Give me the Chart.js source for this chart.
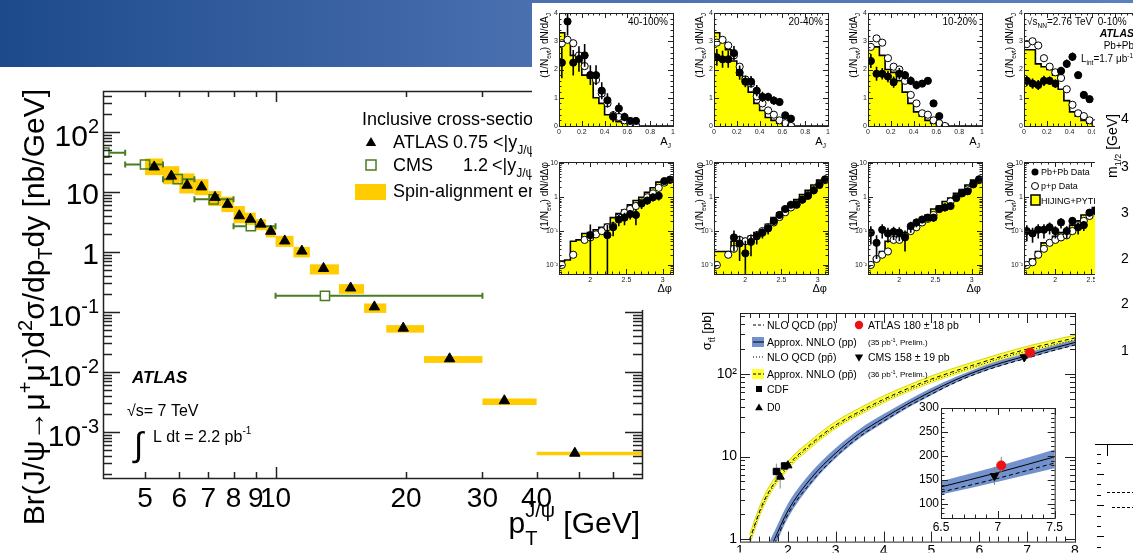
<!DOCTYPE html>
<html>
<head>
<meta charset="utf-8">
<title>ATLAS results</title>
<script src="https://cdn.jsdelivr.net/npm/chart.js@4.4.1/dist/chart.umd.min.js"></script>
<style>
  html, body { margin: 0; padding: 0; }
  body { width: 1133px; height: 553px; overflow: hidden; position: relative; background: #fff;
         font-family: "Liberation Sans", Arial, sans-serif; }
  #header { position: absolute; left: 0; top: 0; width: 1133px; height: 67px; z-index: 1;
            background: linear-gradient(90deg, #1d4a8b 0%, #4a70b0 47%, #5a80c0 100%); }
  .white { position: absolute; background: #fff; }
  canvas { position: absolute; }
  #collageBg { left: 532px; top: 3px; width: 601px; height: 307px; z-index: 2; }
  #ttbarBg { left: 690px; top: 300px; width: 405px; height: 253px; z-index: 4; }
  #mainChart { left: 0; top: 0; z-index: 0; }
  #ttbarChart { left: 690px; top: 300px; z-index: 5; }
  #insetChart { left: 900px; top: 398px; z-index: 6; }
  #m12 { left: 1095px; top: 68px; z-index: 7; background: #fff; }
</style>
</head>
<body>
<div id="header"></div>
<canvas id="mainChart" width="690" height="553"></canvas>
<div id="collageBg" class="white"></div>
<div id="ttbarBg" class="white"></div>
<canvas id="ttbarChart" width="405" height="253"></canvas>
<canvas id="insetChart" width="165" height="140"></canvas>
<canvas id="m12" width="38" height="485"></canvas>

<script>
/* ======================
   DATA : J/psi cross-section (main plot)
====================== */
const binLo   = [5, 5.5, 6, 6.5, 7, 7.5, 8, 8.5, 9, 9.5, 10, 11, 12, 14, 16, 18, 22, 30, 40];
const binHi   = [5.5, 6, 6.5, 7, 7.5, 8, 8.5, 9, 9.5, 10, 11, 12, 14, 16, 18, 22, 30, 40, 70];
const atlasPt = [5.25, 5.75, 6.25, 6.75, 7.25, 7.75, 8.25, 8.75, 9.25, 9.75, 10.5, 11.5, 12.9, 14.9, 16.9, 19.7, 25.2, 33.7, 49];
const atlasXs = [26, 18.3, 12.9, 12.1, 8.1, 6.2, 4.0, 3.5, 2.9, 2.2, 1.52, 1.03, 0.53, 0.25, 0.121, 0.0535, 0.0165, 0.0033, 0.00044];
const spinHi  = [36, 26.8, 20.3, 16.3, 10.3, 8.3, 5.8, 4.5, 3.5, 2.6, 1.85, 1.21, 0.62, 0.29, 0.138, 0.06, 0.0183, 0.0036, 0.000465];
const spinLo  = [19, 13.4, 9.4, 8.8, 5.8, 4.6, 3.0, 2.8, 2.3, 1.74, 1.21, 0.81, 0.42, 0.20, 0.096, 0.045, 0.0141, 0.0028, 0.000407];

const cmsPt = [4.03, 5.0, 5.95, 7.2, 8.77, 13.0];
const cmsLo = [3.5, 4.5, 5.5, 6.5, 8, 10];
const cmsHi = [4.5, 5.5, 6.5, 8, 10, 30];
const cmsXs = [45, 28.6, 16.3, 7.5, 2.68, 0.185];

const ptTicks   = [5, 6, 7, 8, 9, 10, 20, 30, 40];
const yTickVals = [1e-3, 1e-2, 1e-1, 1, 10, 100];
const yTickBase = ['10', '10', '10', '1', '10', '10'];
const yTickExp  = ['-3', '-2', '-1', '', '', '2'];

/* ======================
   DATA : dijet asymmetry panels
====================== */
const centralities = ['40-100%', '20-40%', '10-20%', '0-10%'];
const ajEdges   = [0, 0.05, 0.1, 0.15, 0.2, 0.25, 0.3, 0.35, 0.4, 0.45, 0.5, 0.55, 0.6, 0.65, 0.7, 0.75, 0.8, 0.85, 0.9, 0.95, 1.0];
const ajCenters = [0.025, 0.075, 0.125, 0.175, 0.225, 0.275, 0.325, 0.375, 0.425, 0.475, 0.525, 0.575, 0.625, 0.675];

const ajHist1  = [3.4, 3.3, 3.0, 2.5, 2.3, 1.8, 1.7, 1.0, 0.8, 0.4, 0.3, 0.15, 0.1, 0.05, 0, 0, 0, 0, 0, 0];
const ajPbPb1  = [2.24, 3.7, 2.24, 2.37, 2.5, 1.8, 1.8, 1.25, 0.91, 0.33, 0.62, 0.32, 0.18, 0.18];
const ajErr1   = [0.55, 0.5, 0.45, 0.45, 0.4, 0.35, 0.35, 0.3, 0.25, 0.2, 0.2, 0.15, 0.12, 0.12];
const ajPp1    = [2.93, 3.05, 2.93, 2.5, 2.12, 1.8, 1.63, 1.15, 0.8, 0.38, 0.32, 0.2, 0.1, 0.0];

const ajHist2  = [3.0, 3.3, 3.0, 2.7, 2.3, 1.8, 1.6, 1.2, 0.8, 0.55, 0.3, 0.2, 0.1, 0.05, 0, 0, 0, 0, 0, 0];
const ajPbPb2  = [2.43, 2.36, 2.36, 2.58, 1.89, 1.57, 1.57, 1.25, 1.03, 1.03, 0.9, 0.85, 0.38, 0.26];
const ajErr2   = [0.3, 0.3, 0.3, 0.25, 0.25, 0.2, 0.2, 0.2, 0.18, 0.15, 0.15, 0.12, 0.1, 0.08];
const ajPp2    = [2.95, 3.05, 2.85, 2.5, 2.1, 1.65, 1.5, 1.05, 0.8, 0.55, 0.4, 0.2, 0.1, 0.0];

const ajHist3  = [2.9, 2.8, 2.8, 2.5, 2.0, 1.9, 1.6, 1.2, 0.8, 0.5, 0.35, 0.2, 0.1, 0.05, 0, 0, 0, 0, 0, 0];
const ajPbPb3  = [2.3, 1.85, 1.85, 1.75, 1.55, 1.85, 1.8, 1.6, 1.45, 1.5, 1.6, 0.8, 0.35];
const ajErr3   = [0.25, 0.25, 0.2, 0.2, 0.2, 0.2, 0.15, 0.15, 0.15, 0.12, 0.12, 0.12, 0.1];
const ajPp3    = [2.8, 3.1, 2.95, 2.4, 2.1, 2.0, 1.6, 1.1, 0.8, 0.45, 0.4, 0.2, 0.1, 0.0];

const ajHist4  = [2.3, 2.7, 2.7, 2.2, 2.1, 2.0, 1.8, 1.3, 0.9, 0.5, 0.35, 0.2, 0.1, 0.05, 0, 0, 0, 0, 0, 0];
const ajPbPb4  = [1.6, 1.5, 1.45, 1.6, 1.6, 1.5, 1.95, 2.2, 2.45, 1.8, 1.1, 0.95];
const ajErr4   = [0.18, 0.18, 0.18, 0.18, 0.15, 0.15, 0.15, 0.15, 0.15, 0.12, 0.12, 0.1];
const ajPp4    = [2.9, 3.0, 2.85, 2.4, 2.1, 1.9, 1.7, 1.3, 0.75, 0.45, 0.35, 0.2, 0.1, 0.0];

const dpEdges   = [1.571, 1.649, 1.728, 1.806, 1.885, 1.963, 2.042, 2.120, 2.199, 2.278, 2.356, 2.435, 2.513, 2.592, 2.670, 2.749, 2.827, 2.906, 2.985, 3.063, 3.142];
const dpCenters = [1.610, 1.689, 1.767, 1.846, 1.924, 2.003, 2.081, 2.160, 2.238, 2.317, 2.395, 2.474, 2.552, 2.631, 2.709, 2.788, 2.866, 2.945, 3.023, 3.102];

const dpHist1 = [0.013, 0.013, 0.014, 0.05, 0.055, 0.085, 0.09, 0.11, 0.13, 0.16, 0.25, 0.33, 0.42, 0.6, 0.8, 1.0, 1.4, 1.9, 2.8, 3.3];
const dpPbPb1 = [null, null, null, null, null, 0.076, null, null, 0.076, 0.13, 0.22, 0.25, 0.32, 0.3, 0.65, 0.8, 1.0, 1.1, 3.0, 3.3];
const dpErr1  = [null, null, null, null, null, 0.08, null, null, 0.08, 0.06, 0.08, 0.1, 0.1, 0.15, 0.2, 0.2, 0.25, 0.3, 0.4, 0.4];
const dpPp1   = [0.01, null, 0.02, null, 0.055, 0.065, 0.08, 0.1, 0.13, 0.14, 0.25, 0.35, 0.45, 0.55, 0.7, 1.0, 1.3, 1.9, 2.7, 3.3];

const dpHist2 = [0.025, 0.025, 0.025, 0.025, 0.05, 0.055, 0.06, 0.07, 0.09, 0.11, 0.16, 0.25, 0.35, 0.5, 0.65, 0.85, 1.2, 1.6, 2.3, 3.2];
const dpPbPb2 = [null, null, null, 0.065, 0.043, 0.022, 0.048, 0.07, 0.09, 0.12, 0.2, 0.3, 0.45, 0.6, 0.6, 0.85, 1.1, 1.6, 2.3, 3.4];
const dpErr2  = [null, null, null, 0.04, 0.03, 0.03, 0.03, 0.03, 0.03, 0.04, 0.05, 0.07, 0.08, 0.1, 0.1, 0.12, 0.15, 0.2, 0.3, 0.35];
const dpPp2   = [0.01, null, 0.02, 0.03, 0.055, 0.05, 0.06, 0.075, 0.1, 0.13, 0.18, 0.26, 0.36, 0.5, 0.62, 0.85, 1.15, 1.6, 2.4, 3.2];

const dpHist3 = [0.016, 0.01, 0.016, 0.025, 0.05, 0.05, 0.07, 0.09, 0.12, 0.16, 0.22, 0.3, 0.45, 0.55, 0.75, 0.95, 1.3, 1.7, 2.3, 3.2];
const dpPbPb3 = [0.09, 0.045, 0.11, 0.085, 0.095, 0.09, 0.065, 0.14, 0.18, 0.22, 0.25, 0.25, 0.45, 0.5, 0.55, 0.95, 1.3, 1.5, 2.5, 3.4];
const dpErr3  = [0.05, 0.03, 0.05, 0.04, 0.04, 0.04, 0.04, 0.05, 0.05, 0.05, 0.05, 0.06, 0.08, 0.1, 0.1, 0.12, 0.15, 0.2, 0.3, 0.35];
const dpPp3   = [0.01, 0.015, 0.02, 0.025, 0.055, 0.055, 0.07, 0.1, 0.13, 0.18, 0.23, 0.3, 0.45, 0.5, 0.75, 1.0, 1.35, 1.7, 2.4, 3.2];

const dpHist4 = [0.01, 0.01, 0.015, 0.025, 0.045, 0.05, 0.07, 0.09, 0.11, 0.15, 0.2, 0.3, 0.4, 0.5, 0.75, 1.0, 1.3, 1.7, 2.4, 3.2];
const dpPbPb4 = [0.1, 0.085, 0.11, 0.11, 0.13, 0.1, 0.18, 0.1, 0.2, 0.13, 0.15, 0.35, 0.4, 0.5, 0.6, 0.9, 1.2, 1.6, 2.4, 3.4];
const dpErr4  = [0.05, 0.04, 0.05, 0.05, 0.05, 0.04, 0.06, 0.04, 0.06, 0.05, 0.05, 0.08, 0.1, 0.1, 0.12, 0.15, 0.2, 0.25, 0.3, 0.35];
const dpPp4   = [0.01, 0.012, 0.02, 0.03, 0.045, 0.055, 0.065, 0.075, 0.1, 0.15, 0.2, 0.28, 0.4, 0.5, 0.7, 0.95, 1.3, 1.7, 2.4, 3.2];

/* ======================
   DATA : ttbar cross-section
====================== */
const sqrtSppbar = [1.2, 1.5, 2, 2.5, 3, 3.5, 4, 4.5, 5, 5.5, 6, 6.5, 7, 7.5, 8];
const ppbarNNLO  = [1.0, 2.9, 7.8, 14.5, 24, 35, 49, 66, 86, 108, 134, 164, 198, 232, 270];
const ppbarHi    = [1.15, 3.3, 8.7, 16, 26.5, 38.5, 54, 72, 94, 118, 146, 178, 214, 251, 292];
const ppbarLo    = [0.87, 2.55, 7.0, 13, 21.8, 31.8, 44.5, 60, 78, 98, 122, 150, 182, 213, 248];
const ppbarNLO   = [0.94, 2.75, 7.4, 13.8, 22.8, 33.3, 46.6, 62.7, 81.7, 102.6, 127, 156, 188, 220, 256];

const sqrtSpp = [1.6, 1.72, 2, 2.5, 3, 3.5, 4, 4.5, 5, 5.5, 6, 6.5, 7, 7.5, 8];
const ppNNLO  = [0.7, 1.0, 2.2, 5.6, 11, 19, 29, 43, 61, 84, 110, 137, 165, 200, 238];
const ppHi    = [0.9, 1.25, 2.7, 6.6, 12.7, 21.5, 32.5, 47.5, 67, 91, 119, 148, 178, 215, 255];
const ppLo    = [0.55, 0.8, 1.8, 4.7, 9.5, 16.6, 25.6, 38.5, 55, 77, 101, 126, 152, 185, 221];
const ppNLO   = [0.62, 0.88, 2.0, 5.0, 10, 17.4, 26.7, 40, 56.6, 78.5, 103, 128, 154, 187, 222];

const cdfS = [1.76, 1.93], cdfXs = [6.6, 7.7], cdfErr = [1.6, 0.9];
const d0S  = [1.84, 2.0],  d0Xs  = [5.7, 7.8], d0Err  = [1.6, 0.8];
const atlasTtS = [7.06], atlasTtXs = [180], atlasTtErr = [18];
const cmsTtS   = [6.94], cmsTtXs   = [158], cmsTtErr   = [19];
const sqrtSTicks = [1, 2, 3, 4, 5, 6, 7, 8];

const insetS    = [6.5, 7.0, 7.5];
const insetNNLO = [135, 165, 198];
const insetHi   = [147, 178, 213];
const insetLo   = [119, 146, 174];
const insetNLO  = [124, 153, 185];
const insetYTicks = [100, 150, 200, 250, 300];
const insetXTicks = [6.5, 7, 7.5];

/* ======================
   HELPERS
====================== */
const FONT = '"Liberation Sans", Arial, Helvetica, sans-serif';
const font = (size, style) => `${style || ''} ${size}px ${FONT}`;
Chart.defaults.font.family = FONT;
Chart.defaults.color = '#000';

function richWidth(ctx, segs) {
  let w = 0;
  segs.forEach(s => { ctx.font = font(s[1], s[3]); if (!s[4]) w += ctx.measureText(s[0]).width; });
  return w;
}
// segs: [text, size, dy, style, noAdvance]
function richText(ctx, segs, x, y, align) {
  const w = richWidth(ctx, segs);
  let cx = align === 'right' ? x - w : align === 'center' ? x - w / 2 : x;
  ctx.textAlign = 'left';
  ctx.textBaseline = 'alphabetic';
  segs.forEach(s => {
    ctx.font = font(s[1], s[3]);
    ctx.fillText(s[0], cx, y + (s[2] || 0));
    if (!s[4]) cx += ctx.measureText(s[0]).width;
  });
  return w;
}
function rotText(ctx, segs, x, y, align) {
  ctx.save();
  ctx.translate(x, y);
  ctx.rotate(-Math.PI / 2);
  richText(ctx, segs, 0, 0, align);
  ctx.restore();
}
function tri(ctx, x, y, r, down) {
  const s = down ? -1 : 1;
  ctx.beginPath();
  ctx.moveTo(x, y - s * r);
  ctx.lineTo(x + r * 0.87, y + s * r / 2);
  ctx.lineTo(x - r * 0.87, y + s * r / 2);
  ctx.closePath();
  ctx.fill();
}
function dot(ctx, x, y, r, open) {
  ctx.beginPath();
  ctx.arc(x, y, r, 0, Math.PI * 2);
  if (open) { ctx.fillStyle = '#fff'; ctx.fill(); ctx.stroke(); ctx.fillStyle = '#000'; }
  else ctx.fill();
}
const toPts = (xs, ys, es) => xs.map((x, i) => ({ x, y: ys[i], e: es ? es[i] : null }))
                                .filter(p => p.y !== null && p.y !== undefined);
const stepPts = (edges, vals) => {
  const pts = vals.map((v, i) => ({ x: edges[i], y: v }));
  pts.push({ x: edges[vals.length], y: vals[vals.length - 1] });
  return pts;
};
const decadeMinors = (lo, hi) => {
  const out = [];
  for (let d = -5; d <= 3; d++) for (let m = 2; m <= 9; m++) {
    const v = m * Math.pow(10, d);
    if (v > lo && v < hi) out.push(v);
  }
  return out;
};
const linMinors = (lo, hi, step) => {
  const out = [];
  for (let v = lo; v <= hi + 1e-9; v += step) out.push(+v.toFixed(4));
  return out;
};

/* ======================
   PLUGINS : ROOT style frame + error bars
====================== */
const rootFrame = {
  id: 'rootFrame',
  afterDatasetsDraw(chart, args, o) {
    const { ctx, chartArea: a } = chart;
    const sx = chart.scales.x, sy = chart.scales.y;
    ctx.save();
    ctx.strokeStyle = o.color || '#222';
    ctx.lineWidth = o.lineWidth || 1;
    ctx.beginPath();
    const mark = (vals, len, scale, horiz) => {
      (vals || []).forEach(v => {
        if (v < scale.min || v > scale.max) return;
        const p = Math.round(scale.getPixelForValue(v)) + 0.5;
        if (horiz) {
          ctx.moveTo(p, a.bottom); ctx.lineTo(p, a.bottom - len);
          ctx.moveTo(p, a.top); ctx.lineTo(p, a.top + len);
        } else {
          ctx.moveTo(a.left, p); ctx.lineTo(a.left + len, p);
          ctx.moveTo(a.right, p); ctx.lineTo(a.right - len, p);
        }
      });
    };
    mark(o.xMajor, o.xMajorLen || 6, sx, true);
    mark(o.xMinor, o.xMinorLen || 3, sx, true);
    mark(o.yMajor, o.yMajorLen || 6, sy, false);
    mark(o.yMinor, o.yMinorLen || 3, sy, false);
    ctx.stroke();
    ctx.strokeRect(a.left + 0.5, a.top + 0.5, a.right - a.left, a.bottom - a.top);
    ctx.restore();
  }
};
const errorBars = {
  id: 'errorBars',
  beforeDatasetDraw(chart, args) {
    const ds = chart.data.datasets[args.index];
    if (!ds.withErr) return;
    const { ctx, chartArea: a } = chart;
    const sx = chart.scales.x, sy = chart.scales.y;
    ctx.save();
    ctx.beginPath(); ctx.rect(a.left, a.top, a.right - a.left, a.bottom - a.top); ctx.clip();
    ctx.strokeStyle = ds.errColor || '#000';
    ctx.lineWidth = ds.errWidth || 1;
    ctx.beginPath();
    ds.data.forEach(p => {
      if (p.e === null || p.e === undefined) return;
      const px = sx.getPixelForValue(p.x);
      const lo = p.y - p.e;
      const pLo = (sy.type === 'logarithmic' && lo <= 0) ? a.bottom : sy.getPixelForValue(lo);
      ctx.moveTo(px, pLo);
      ctx.lineTo(px, sy.getPixelForValue(p.y + p.e));
    });
    ctx.stroke();
    ctx.restore();
  }
};
Chart.register(rootFrame, errorBars);

const fixedScale = (extra, fit) => Object.assign({
  grid: { display: false, drawTicks: false },
  border: { display: false },
  afterFit: fit
}, extra);

/* ======================
   MAIN CHART : J/psi
====================== */
const cmsGreen = '#4a7d22';
const jpsiExtras = {
  id: 'jpsiExtras',
  beforeDatasetsDraw(chart) {
    const { ctx, chartArea: a, scales: { x, y } } = chart;
    ctx.save();
    ctx.beginPath(); ctx.rect(a.left, a.top, a.right - a.left, a.bottom - a.top); ctx.clip();
    ctx.fillStyle = '#ffcc00';
    binLo.forEach((lo, i) => {
      const x0 = x.getPixelForValue(lo), x1 = x.getPixelForValue(binHi[i]);
      const y0 = y.getPixelForValue(spinHi[i]), y1 = y.getPixelForValue(spinLo[i]);
      ctx.fillRect(x0, y0, x1 - x0, Math.max(y1 - y0, 3));
    });
    ctx.strokeStyle = cmsGreen;
    ctx.lineWidth = 2;
    ctx.beginPath();
    cmsPt.forEach((pt, i) => {
      const yy = y.getPixelForValue(cmsXs[i]);
      const xl = x.getPixelForValue(cmsLo[i]), xh = x.getPixelForValue(cmsHi[i]);
      const xc = x.getPixelForValue(pt);
      ctx.moveTo(xl, yy); ctx.lineTo(xc - 5, yy);
      ctx.moveTo(xc + 5, yy); ctx.lineTo(xh, yy);
      ctx.moveTo(xl, yy - 3); ctx.lineTo(xl, yy + 3);
      ctx.moveTo(xh, yy - 3); ctx.lineTo(xh, yy + 3);
    });
    ctx.stroke();
    ctx.restore();
  },
  afterDraw(chart) {
    const { ctx, scales: { y } } = chart;
    ctx.save();
    ctx.fillStyle = '#000';

    // y tick labels, ROOT style exponents
    yTickVals.forEach((v, i) => {
      const py = y.getPixelForValue(v);
      const segs = yTickExp[i] ? [[yTickBase[i], 30], [yTickExp[i], 20, -13]] : [[yTickBase[i], 30]];
      richText(ctx, segs, 99, py + (yTickExp[i] ? 14 : 12), 'right');
    });

    // y title
    const ySegs = [['Br(J/ψ→μ', 30], ['+', 20, -12], ['μ', 30], ['-', 20, -12], [')d', 30], ['2', 20, -12],
                   ['σ/dp', 30], ['T', 20, 8], ['dy [nb/GeV]', 30]];
    const yw = richWidth(ctx, ySegs);
    rotText(ctx, ySegs, 44, 89 + yw / 2, 'center');

    // x title
    richText(ctx, [['p', 30], ['T', 20, 12, '', true], ['J/ψ', 20, -16], [' [GeV]', 30]], 640, 533, 'right');

    // legend
    ctx.fillStyle = '#000';
    richText(ctx, [['Inclusive cross-section', 18]], 362, 125);
    tri(ctx, 371, 143, 6);
    richText(ctx, [['ATLAS', 18]], 393, 148);
    richText(ctx, [['0.75 <|y', 18], ['J/ψ', 12, 6], ['| < 1.5', 18]], 453, 148);
    ctx.strokeStyle = cmsGreen; ctx.lineWidth = 1.5;
    ctx.strokeRect(366, 160, 10, 10);
    richText(ctx, [['CMS', 18]], 393, 171);
    richText(ctx, [['1.2', 18]], 463, 171);
    richText(ctx, [['<|y', 18], ['J/ψ', 12, 6], ['| < 1.6', 18]], 492, 171);
    ctx.fillStyle = '#ffcc00';
    ctx.fillRect(355, 184, 31, 16);
    ctx.fillStyle = '#000';
    richText(ctx, [['Spin-alignment envelope', 18]], 393, 197);

    // ATLAS label block
    richText(ctx, [['ATLAS', 17, 0, 'italic bold']], 132, 383);
    richText(ctx, [['√s= 7 TeV', 16]], 127, 416);
    richText(ctx, [['∫', 34]], 134, 456);
    richText(ctx, [['L dt = 2.2 pb', 16], ['-1', 10, -8]], 153, 442);
    ctx.restore();
  }
};

new Chart(document.getElementById('mainChart'), {
  type: 'scatter',
  data: {
    datasets: [
      { label: 'ATLAS 0.75<|y|<1.5', data: toPts(atlasPt, atlasXs), pointStyle: 'triangle',
        pointRadius: 6, backgroundColor: '#000', borderColor: '#000', borderWidth: 1, order: 1 },
      { label: 'CMS 1.2<|y|<1.6', data: toPts(cmsPt, cmsXs), pointStyle: 'rect',
        pointRadius: 6.5, backgroundColor: 'rgba(0,0,0,0)', borderColor: cmsGreen, borderWidth: 1.5, order: 2 }
    ]
  },
  options: {
    responsive: false, animation: false, devicePixelRatio: 1,
    layout: { padding: { top: 91, right: 48, left: 0, bottom: 0 } },
    plugins: {
      legend: { display: false }, tooltip: { enabled: false },
      rootFrame: { lineWidth: 1.5, xMajor: [10], xMinor: [5, 6, 7, 8, 9, 20, 30, 40, 50, 60],
                   xMajorLen: 11, xMinorLen: 6, yMajor: yTickVals, yMinor: decadeMinors(1.7e-4, 480),
                   yMajorLen: 17, yMinorLen: 9 }
    },
    scales: {
      x: fixedScale({
        type: 'logarithmic', min: 4, max: 70,
        afterBuildTicks: s => { s.ticks = ptTicks.map(v => ({ value: v })); },
        ticks: { autoSkip: false, maxRotation: 0, minRotation: 0, padding: 4, color: '#000',
                 font: { size: 28 }, callback: v => String(v) }
      }, s => { s.height = 75; }),
      y: fixedScale({
        type: 'logarithmic', min: 1.7e-4, max: 480,
        afterBuildTicks: s => { s.ticks = yTickVals.map(v => ({ value: v })); },
        ticks: { display: false }
      }, s => { s.width = 103; })
    }
  },
  plugins: [jpsiExtras]
});

/* ======================
   DIJET PANELS
====================== */
const panelLefts = [559, 714, 868, 1024];
const ajSets = [
  [ajHist1, ajPbPb1, ajErr1, ajPp1], [ajHist2, ajPbPb2, ajErr2, ajPp2],
  [ajHist3, ajPbPb3, ajErr3, ajPp3], [ajHist4, ajPbPb4, ajErr4, ajPp4]
];
const dpSets = [
  [dpHist1, dpPbPb1, dpErr1, dpPp1], [dpHist2, dpPbPb2, dpErr2, dpPp2],
  [dpHist3, dpPbPb3, dpErr3, dpPp3], [dpHist4, dpPbPb4, dpErr4, dpPp4]
];

function makePanel(col, isDphi) {
  const fl = panelLefts[col];
  const ft = isDphi ? 162 : 13;
  const fh = isDphi ? 112 : 113;
  const cv = document.createElement('canvas');
  cv.width = 156; cv.height = 10 + fh + 30;
  cv.style.left = (fl - 30) + 'px';
  cv.style.top = (ft - 10) + 'px';
  cv.style.zIndex = 3;
  document.body.appendChild(cv);

  const [hist, pbpb, err, pp] = isDphi ? dpSets[col] : ajSets[col];
  const edges = isDphi ? dpEdges : ajEdges;
  const centers = isDphi ? dpCenters : ajCenters;

  const panelText = {
    id: 'panelText',
    afterDraw(chart) {
      const { ctx, chartArea: a } = chart;
      ctx.save();
      ctx.fillStyle = '#000';
      const tx = isDphi ? [['(1/N', 10], ['evt', 6.5, 3], [') dN/dΔφ', 10]]
                        : [['(1/N', 10], ['evt', 6.5, 3], [') dN/dA', 10], ['J', 6.5, 3]];
      rotText(ctx, tx, a.left - 11, a.top, 'right');
      if (isDphi) richText(ctx, [['Δφ', 11]], a.right - 1, a.bottom + 18, 'right');
      else richText(ctx, [['A', 11], ['J', 7, 3]], a.right - 2, a.bottom + 19, 'right');
      if (!isDphi) {
        if (col < 3) richText(ctx, [[centralities[col], 10]], a.right - 5, a.top + 12, 'right');
        else {
          richText(ctx, [['√s', 10], ['NN', 6.5, 3], ['=2.76 TeV  ' + centralities[col], 10]], a.left + 3, a.top + 12);
          richText(ctx, [['ATLAS', 10.5, 0, 'italic bold']], a.right - 4, a.top + 24, 'right');
          richText(ctx, [['Pb+Pb', 10]], a.right - 4, a.top + 36, 'right');
          richText(ctx, [['L', 10], ['int', 6.5, 3], ['=1.7 μb', 10], ['-1', 6.5, -4]], a.left + 57, a.top + 49);
        }
      } else if (col === 3) {
        dot(ctx, a.left + 11, a.top + 10, 3.5, false);
        richText(ctx, [['Pb+Pb Data', 9]], a.left + 17, a.top + 13);
        ctx.strokeStyle = '#000'; ctx.lineWidth = 1;
        dot(ctx, a.left + 11, a.top + 24, 3.5, true);
        richText(ctx, [['p+p Data', 9]], a.left + 17, a.top + 27);
        ctx.fillStyle = '#ffff00'; ctx.fillRect(a.left + 7, a.top + 33, 9, 10);
        ctx.lineWidth = 1.5; ctx.strokeRect(a.left + 7, a.top + 33, 9, 10);
        ctx.fillStyle = '#000';
        richText(ctx, [['HIJING+PYTHIA', 9]], a.left + 17, a.top + 42);
      }
      ctx.restore();
    }
  };

  const yLog = isDphi;
  new Chart(cv, {
    type: 'line',
    data: {
      datasets: [
        { label: 'Pb+Pb Data', data: toPts(centers, pbpb, err), showLine: false, pointRadius: 3.6,
          backgroundColor: '#000', borderColor: '#000', withErr: true, errWidth: 1.6, order: 1 },
        { label: 'p+p Data', data: toPts(centers, pp), showLine: false, pointRadius: 3.6,
          backgroundColor: '#fff', borderColor: '#000', borderWidth: 1, order: 2 },
        { label: 'HIJING+PYTHIA', data: stepPts(edges, hist), stepped: 'after', fill: 'start',
          backgroundColor: '#ffff00', borderColor: '#000', borderWidth: 1.6, pointRadius: 0, order: 3 }
      ]
    },
    options: {
      responsive: false, animation: false, devicePixelRatio: 1,
      layout: { padding: { top: 10, right: 12, left: 0, bottom: 0 } },
      plugins: {
        legend: { display: false }, tooltip: { enabled: false },
        rootFrame: isDphi
          ? { xMajor: [2, 2.5, 3], xMinor: linMinors(1.6, 3.1, 0.1), xMajorLen: 5, xMinorLen: 2.5,
              yMajor: [0.01, 0.1, 1, 10], yMinor: decadeMinors(0.0054, 11), yMajorLen: 5, yMinorLen: 2.5 }
          : { xMajor: [0, 0.2, 0.4, 0.6, 0.8, 1], xMinor: linMinors(0, 1, 0.05), xMajorLen: 5, xMinorLen: 2.5,
              yMajor: [0, 1, 2, 3, 4], yMinor: linMinors(0, 4, 0.2), yMajorLen: 5, yMinorLen: 2.5 }
      },
      scales: {
        x: fixedScale({
          type: 'linear', min: isDphi ? 1.571 : 0, max: isDphi ? 3.142 : 1,
          afterBuildTicks: s => { s.ticks = (isDphi ? [2, 2.5, 3] : [0, 0.2, 0.4, 0.6, 0.8, 1]).map(v => ({ value: v })); },
          ticks: { autoSkip: false, maxRotation: 0, padding: 2, font: { size: 7 }, color: '#222',
                   callback: v => String(v) }
        }, s => { s.height = 30; }),
        y: fixedScale({
          type: yLog ? 'logarithmic' : 'linear', min: yLog ? 0.0054 : 0, max: yLog ? 11 : 4,
          afterBuildTicks: s => { s.ticks = (yLog ? [0.01, 0.1, 1, 10] : [0, 1, 2, 3, 4]).map(v => ({ value: v })); },
          ticks: { autoSkip: false, padding: 1, font: { size: 7 }, color: '#222',
                   callback: v => yLog ? ({ 0.01: '10⁻²', 0.1: '10⁻¹', 1: '1', 10: '10' })[v] : String(v) }
        }, s => { s.width = 30; })
      }
    },
    plugins: [panelText]
  });
}
for (let c = 0; c < 4; c++) { makePanel(c, false); makePanel(c, true); }

/* ======================
   TTBAR CHART
====================== */
const bandBlue = '#7391cc', bandYellow = '#ffff3a';
const OX = 690, OY = 300;
const ttbarExtras = {
  id: 'ttbarExtras',
  afterDraw(chart) {
    const { ctx } = chart;
    const L = (gx) => gx - OX, T = (gy) => gy - OY;
    ctx.save();
    ctx.fillStyle = '#000';
    rotText(ctx, [['σ', 13], ['tt̄', 9, 4], [' [pb]', 13]], L(711), T(312), 'right');

    ctx.strokeStyle = '#000'; ctx.lineWidth = 1;
    const seg = (y, dash) => { ctx.setLineDash(dash); ctx.beginPath(); ctx.moveTo(L(753), T(y)); ctx.lineTo(L(764), T(y)); ctx.stroke(); ctx.setLineDash([]); };
    seg(325, [3, 2]);
    richText(ctx, [['NLO QCD (pp)', 10.5]], L(767), T(329));
    ctx.fillStyle = bandBlue; ctx.fillRect(L(752), T(337), 12, 10); seg(342, []);
    ctx.fillStyle = '#000';
    richText(ctx, [['Approx. NNLO (pp)', 10.5]], L(767), T(346));
    seg(357, [1, 2]);
    richText(ctx, [['NLO QCD (pp̄)', 10.5]], L(767), T(361));
    ctx.fillStyle = bandYellow; ctx.fillRect(L(752), T(369), 12, 10); seg(374, [3, 2]);
    ctx.fillStyle = '#000';
    richText(ctx, [['Approx. NNLO (pp̄)', 10.5]], L(767), T(378));
    ctx.fillRect(L(756), T(386), 6, 6);
    richText(ctx, [['CDF', 10.5]], L(767), T(393));
    tri(ctx, L(759), T(408), 4.5);
    richText(ctx, [['D0', 10.5]], L(767), T(411));

    ctx.fillStyle = '#ee1111';
    dot(ctx, L(859), T(325), 4.2, false);
    ctx.fillStyle = '#000';
    richText(ctx, [['ATLAS 180 ± 18 pb', 10.5]], L(868), T(329));
    richText(ctx, [['(35 pb', 8], ['-1', 5.5, -3], [', Prelim.)', 8]], L(868), T(345));
    tri(ctx, L(859), T(357), 4.8, true);
    richText(ctx, [['CMS 158 ± 19 pb', 10.5]], L(868), T(361));
    richText(ctx, [['(36 pb', 8], ['-1', 5.5, -3], [', Prelim.)', 8]], L(868), T(377));
    ctx.restore();
  }
};
const lineDs = (label, xs, ys, extra) => Object.assign({
  label, data: toPts(xs, ys), pointRadius: 0, borderWidth: 1, borderColor: '#000',
  fill: false, cubicInterpolationMode: 'monotone'
}, extra);

new Chart(document.getElementById('ttbarChart'), {
  type: 'line',
  data: {
    datasets: [
      { label: 'ATLAS', data: toPts(atlasTtS, atlasTtXs, atlasTtErr), showLine: false, pointRadius: 4.5,
        backgroundColor: '#ee1111', borderColor: '#ee1111', withErr: true, errColor: '#888', order: 1 },
      { label: 'CMS', data: toPts(cmsTtS, cmsTtXs, cmsTtErr), showLine: false, pointStyle: 'triangle',
        rotation: 180, pointRadius: 4.8, backgroundColor: '#000', borderColor: '#000', withErr: true, errColor: '#888', order: 1 },
      { label: 'CDF', data: toPts(cdfS, cdfXs, cdfErr), showLine: false, pointStyle: 'rect', pointRadius: 4.5,
        backgroundColor: '#000', borderColor: '#000', withErr: true, errColor: '#888', order: 1 },
      { label: 'D0', data: toPts(d0S, d0Xs, d0Err), showLine: false, pointStyle: 'triangle', pointRadius: 4.8,
        backgroundColor: '#000', borderColor: '#000', withErr: true, errColor: '#888', order: 1 },
      lineDs('NNLO pp', sqrtSpp, ppNNLO, { order: 2 }),
      lineDs('NLO pp', sqrtSpp, ppNLO, { borderDash: [4, 3], order: 2 }),
      lineDs('NNLO pp hi', sqrtSpp, ppHi, { borderWidth: 0, fill: '+1', backgroundColor: bandBlue, order: 3 }),
      lineDs('NNLO pp lo', sqrtSpp, ppLo, { borderWidth: 0, order: 3 }),
      lineDs('NNLO ppbar', sqrtSppbar, ppbarNNLO, { borderDash: [4, 3], order: 2 }),
      lineDs('NLO ppbar', sqrtSppbar, ppbarNLO, { borderDash: [1, 2], order: 2 }),
      lineDs('NNLO ppbar hi', sqrtSppbar, ppbarHi, { borderWidth: 0.8, borderColor: '#c8c800', fill: '+1', backgroundColor: bandYellow, order: 4 }),
      lineDs('NNLO ppbar lo', sqrtSppbar, ppbarLo, { borderWidth: 0.8, borderColor: '#c8c800', order: 4 })
    ]
  },
  options: {
    responsive: false, animation: false, devicePixelRatio: 1,
    layout: { padding: { top: 13, right: 20, left: 0, bottom: 0 } },
    plugins: {
      legend: { display: false }, tooltip: { enabled: false },
      rootFrame: { xMajor: sqrtSTicks, xMinor: linMinors(1, 8, 0.2), xMajorLen: 10, xMinorLen: 5,
                   yMajor: [1, 10, 100], yMinor: decadeMinors(0.94, 540), yMajorLen: 10, yMinorLen: 5 }
    },
    scales: {
      x: fixedScale({
        type: 'linear', min: 1, max: 8,
        afterBuildTicks: s => { s.ticks = sqrtSTicks.map(v => ({ value: v })); },
        ticks: { autoSkip: false, maxRotation: 0, padding: 1, font: { size: 14 }, callback: v => String(v) }
      }, s => { s.height = 11; }),
      y: fixedScale({
        type: 'logarithmic', min: 0.94, max: 540,
        afterBuildTicks: s => { s.ticks = [1, 10, 100].map(v => ({ value: v })); },
        ticks: { autoSkip: false, padding: 3, font: { size: 14 }, callback: v => ({ 1: '1', 10: '10', 100: '10²' })[v] }
      }, s => { s.width = 50; })
    }
  },
  plugins: [ttbarExtras]
});

/* ---------- inset ---------- */
const insetBg = {
  id: 'insetBg',
  beforeDatasetsDraw(chart) {
    const { ctx, chartArea: a } = chart;
    ctx.save(); ctx.fillStyle = '#fff';
    ctx.fillRect(a.left, a.top, a.right - a.left, a.bottom - a.top);
    ctx.restore();
  }
};
new Chart(document.getElementById('insetChart'), {
  type: 'line',
  data: {
    datasets: [
      { label: 'ATLAS', data: toPts([7.03], atlasTtXs, atlasTtErr), showLine: false, pointRadius: 4.5,
        backgroundColor: '#ee1111', borderColor: '#ee1111', withErr: true, errColor: '#888', order: 1 },
      { label: 'CMS', data: toPts([6.97], cmsTtXs, cmsTtErr), showLine: false, pointStyle: 'triangle',
        rotation: 180, pointRadius: 4.8, backgroundColor: '#000', borderColor: '#000', withErr: true, errColor: '#888', order: 1 },
      lineDs('NNLO', insetS, insetNNLO, { order: 2 }),
      lineDs('NLO', insetS, insetNLO, { borderDash: [4, 3], order: 2 }),
      lineDs('hi', insetS, insetHi, { borderWidth: 0, fill: '+1', backgroundColor: bandBlue, order: 3 }),
      lineDs('lo', insetS, insetLo, { borderWidth: 0, order: 3 })
    ]
  },
  options: {
    responsive: false, animation: false, devicePixelRatio: 1,
    layout: { padding: { top: 10, right: 8, left: 0, bottom: 0 } },
    plugins: {
      legend: { display: false }, tooltip: { enabled: false },
      rootFrame: { xMajor: insetXTicks, xMinor: linMinors(6.5, 7.5, 0.1), xMajorLen: 7, xMinorLen: 3.5,
                   yMajor: insetYTicks, yMinor: linMinors(70, 300, 10), yMajorLen: 7, yMinorLen: 3.5 }
    },
    scales: {
      x: fixedScale({
        type: 'linear', min: 6.5, max: 7.5,
        afterBuildTicks: s => { s.ticks = insetXTicks.map(v => ({ value: v })); },
        ticks: { autoSkip: false, maxRotation: 0, padding: 2, font: { size: 12 }, callback: v => String(v) }
      }, s => { s.height = 20; }),
      y: fixedScale({
        type: 'linear', min: 70, max: 300,
        afterBuildTicks: s => { s.ticks = insetYTicks.map(v => ({ value: v })); },
        ticks: { autoSkip: false, padding: 2, font: { size: 12 }, callback: v => String(v) }
      }, s => { s.width = 41; })
    }
  },
  plugins: [insetBg]
});

/* ======================
   PARTIAL NEIGHBOUR PLOT (m_1/2 axis)
====================== */
(function () {
  const c = document.getElementById('m12');
  const ctx = c.getContext('2d');
  const T = gy => gy - 68, L = gx => gx - 1095;
  ctx.fillStyle = '#fff'; ctx.fillRect(0, 0, 38, 485);
  ctx.fillStyle = '#000';
  rotText(ctx, [['m', 14], ['1/2', 9, 4], [' [GeV]', 14]], L(1117), T(146), 'center');
  ['4', '3', '3', '2', '2', '1'].forEach((d, i) => {
    richText(ctx, [[d, 14]], L(1121), T([123, 171, 217, 263, 308, 355][i]));
  });
  ctx.strokeStyle = '#000'; ctx.lineWidth = 1;
  ctx.beginPath();
  ctx.moveTo(L(1095), T(444.5)); ctx.lineTo(L(1133), T(444.5));
  ctx.moveTo(L(1107.5), T(444)); ctx.lineTo(L(1107.5), T(456));
  [454, 463, 474, 484, 495, 505, 516, 526, 536, 547].forEach((gy, i) => {
    ctx.moveTo(L(1097), T(gy) + 0.5); ctx.lineTo(L(i % 3 === 2 ? 1104 : 1101), T(gy) + 0.5);
  });
  ctx.stroke();
  ctx.setLineDash([3, 2]);
  ctx.beginPath();
  ctx.moveTo(L(1107), T(492.5)); ctx.lineTo(L(1133), T(492.5));
  ctx.moveTo(L(1112), T(507.5)); ctx.lineTo(L(1133), T(507.5));
  ctx.stroke();
})();
</script>
</body>
</html>
